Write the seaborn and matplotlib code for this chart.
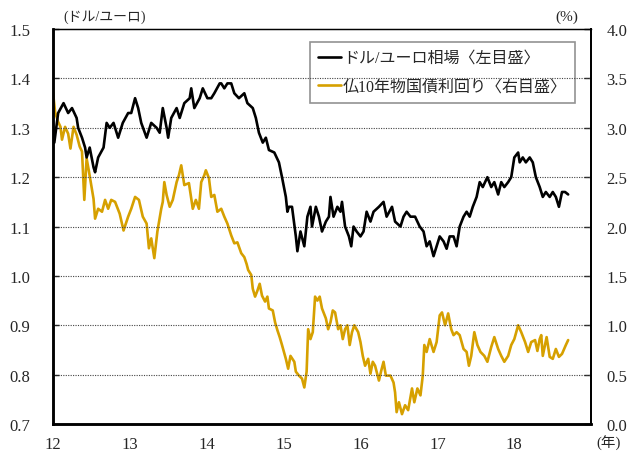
import matplotlib
matplotlib.use('Agg')
import matplotlib.pyplot as plt
import seaborn as sns
import numpy as np
import pandas as pd

# dollar / euro rate (left axis)
usd_t = [2012.00, 2012.02, 2012.07, 2012.14, 2012.20, 2012.25, 2012.31, 2012.33, 2012.38, 2012.42,
         2012.44, 2012.48, 2012.53, 2012.55, 2012.59, 2012.66, 2012.70, 2012.74, 2012.79, 2012.85,
         2012.91, 2012.98, 2013.02, 2013.07, 2013.11, 2013.15, 2013.22, 2013.28, 2013.35, 2013.39,
         2013.43, 2013.48, 2013.50, 2013.54, 2013.61, 2013.65, 2013.71, 2013.78, 2013.80, 2013.84,
         2013.91, 2013.95, 2014.01, 2014.06, 2014.10, 2014.17, 2014.19, 2014.23, 2014.27, 2014.32,
         2014.36, 2014.42, 2014.49, 2014.53, 2014.60, 2014.64, 2014.68, 2014.73, 2014.77, 2014.81,
         2014.88, 2014.94, 2014.98, 2015.03, 2015.05, 2015.07, 2015.11, 2015.16, 2015.18, 2015.22,
         2015.27, 2015.31, 2015.35, 2015.37, 2015.42, 2015.46, 2015.50, 2015.55, 2015.59, 2015.61,
         2015.65, 2015.70, 2015.74, 2015.76, 2015.80, 2015.85, 2015.88, 2015.91, 2015.95, 2016.00,
         2016.04, 2016.08, 2016.13, 2016.17, 2016.24, 2016.30, 2016.34, 2016.41, 2016.45, 2016.52,
         2016.56, 2016.60, 2016.65, 2016.71, 2016.77, 2016.82, 2016.86, 2016.90, 2016.95, 2016.99,
         2017.03, 2017.08, 2017.12, 2017.16, 2017.21, 2017.25, 2017.29, 2017.34, 2017.38, 2017.42,
         2017.46, 2017.51, 2017.55, 2017.59, 2017.65, 2017.70, 2017.74, 2017.79, 2017.83, 2017.87,
         2017.92, 2017.96, 2018.00, 2018.05, 2018.07, 2018.11, 2018.15, 2018.20, 2018.24, 2018.28,
         2018.33, 2018.37, 2018.41, 2018.46, 2018.50, 2018.54, 2018.58, 2018.62, 2018.66, 2018.70]
usd_v = [1.31, 1.27, 1.33, 1.35, 1.33, 1.34, 1.32, 1.30, 1.28, 1.26,
         1.24, 1.26, 1.22, 1.21, 1.24, 1.26, 1.31, 1.30, 1.31, 1.28,
         1.31, 1.33, 1.33, 1.36, 1.34, 1.31, 1.28, 1.31, 1.30, 1.29,
         1.34, 1.30, 1.28, 1.32, 1.34, 1.32, 1.35, 1.36, 1.38, 1.34,
         1.36, 1.38, 1.36, 1.36, 1.37, 1.39, 1.39, 1.38, 1.39, 1.39,
         1.37, 1.36, 1.37, 1.35, 1.34, 1.32, 1.29, 1.27, 1.28, 1.255,
         1.25, 1.23, 1.20, 1.16, 1.13, 1.14, 1.14, 1.08, 1.05, 1.09,
         1.06, 1.12, 1.14, 1.10, 1.14, 1.12, 1.09, 1.11, 1.12, 1.16,
         1.12, 1.14, 1.13, 1.15, 1.10, 1.08, 1.06, 1.10, 1.09, 1.08,
         1.09, 1.13, 1.11, 1.13, 1.14, 1.15, 1.12, 1.14, 1.11, 1.10,
         1.12, 1.13, 1.12, 1.12, 1.10, 1.09, 1.06, 1.07, 1.04, 1.06,
         1.08, 1.07, 1.055, 1.08, 1.08, 1.06, 1.10, 1.12, 1.13, 1.12,
         1.14, 1.16, 1.19, 1.18, 1.20, 1.18, 1.19, 1.165, 1.19, 1.18,
         1.19, 1.20, 1.24, 1.25, 1.23, 1.24, 1.23, 1.24, 1.23, 1.20,
         1.18, 1.16, 1.17, 1.16, 1.17, 1.16, 1.14, 1.17, 1.17, 1.165]

# French 10y government bond yield (right axis, %)
fr_t = [2012.00, 2012.03, 2012.07, 2012.10, 2012.12, 2012.16, 2012.20, 2012.23, 2012.27, 2012.31,
        2012.35, 2012.38, 2012.41, 2012.44, 2012.47, 2012.50, 2012.53, 2012.55, 2012.59, 2012.64,
        2012.68, 2012.72, 2012.76, 2012.81, 2012.87, 2012.92, 2012.98, 2013.02, 2013.07, 2013.12,
        2013.17, 2013.22, 2013.25, 2013.28, 2013.32, 2013.36, 2013.41, 2013.43, 2013.45, 2013.48,
        2013.52, 2013.56, 2013.61, 2013.64, 2013.67, 2013.71, 2013.77, 2013.82, 2013.86, 2013.90,
        2013.93, 2013.97, 2013.99, 2014.03, 2014.06, 2014.10, 2014.14, 2014.19, 2014.23, 2014.27,
        2014.32, 2014.36, 2014.40, 2014.45, 2014.49, 2014.52, 2014.54, 2014.58, 2014.60, 2014.63,
        2014.66, 2014.69, 2014.72, 2014.76, 2014.79, 2014.81, 2014.86, 2014.89, 2014.92, 2014.95,
        2014.98, 2015.03, 2015.06, 2015.09, 2015.14, 2015.16, 2015.20, 2015.24, 2015.27, 2015.30,
        2015.32, 2015.35, 2015.38, 2015.41, 2015.44, 2015.47, 2015.50, 2015.55, 2015.58, 2015.61,
        2015.64, 2015.67, 2015.71, 2015.74, 2015.77, 2015.80, 2015.83, 2015.86, 2015.89, 2015.92,
        2015.97, 2016.00, 2016.03, 2016.06, 2016.10, 2016.13, 2016.16, 2016.19, 2016.24, 2016.27,
        2016.30, 2016.33, 2016.39, 2016.43, 2016.45, 2016.47, 2016.50, 2016.54, 2016.58, 2016.62,
        2016.67, 2016.70, 2016.74, 2016.78, 2016.81, 2016.83, 2016.86, 2016.90, 2016.95, 2016.99,
        2017.03, 2017.06, 2017.10, 2017.14, 2017.18, 2017.21, 2017.25, 2017.29, 2017.34, 2017.38,
        2017.41, 2017.44, 2017.48, 2017.52, 2017.56, 2017.61, 2017.65, 2017.70, 2017.74, 2017.79,
        2017.83, 2017.87, 2017.92, 2017.96, 2018.00, 2018.05, 2018.09, 2018.14, 2018.18, 2018.22,
        2018.27, 2018.30, 2018.33, 2018.35, 2018.37, 2018.42, 2018.46, 2018.50, 2018.54, 2018.58,
        2018.62, 2018.67, 2018.70]
fr_v = [3.38, 3.16, 3.06, 3.01, 2.88, 3.01, 2.94, 2.79, 3.01, 2.93,
        2.81, 2.76, 2.27, 2.69, 2.56, 2.42, 2.28, 2.08, 2.18, 2.15,
        2.27, 2.18, 2.27, 2.25, 2.13, 1.96, 2.10, 2.18, 2.30, 2.27,
        2.10, 2.03, 1.78, 1.88, 1.68, 1.95, 2.18, 2.25, 2.45, 2.32,
        2.20, 2.27, 2.45, 2.52, 2.62, 2.42, 2.44, 2.18, 2.27, 2.18,
        2.45, 2.52, 2.57, 2.49, 2.30, 2.32, 2.15, 2.18, 2.10, 2.03,
        1.91, 1.83, 1.84, 1.73, 1.69, 1.62, 1.56, 1.51, 1.37, 1.29,
        1.35, 1.42, 1.30, 1.24, 1.29, 1.17, 1.15, 1.03, 0.95, 0.88,
        0.80, 0.66, 0.56, 0.69, 0.63, 0.53, 0.49, 0.46, 0.37, 0.53,
        0.96, 0.86, 0.93, 1.29, 1.25, 1.29, 1.17, 1.07, 0.96, 1.03,
        1.15, 1.13, 0.96, 1.00, 0.86, 0.96, 1.00, 0.80, 0.93, 1.00,
        0.93, 0.83, 0.69, 0.59, 0.66, 0.51, 0.63, 0.59, 0.44, 0.54,
        0.63, 0.49, 0.49, 0.42, 0.32, 0.12, 0.22, 0.10, 0.19, 0.14,
        0.36, 0.22, 0.36, 0.29, 0.49, 0.80, 0.73, 0.86, 0.73, 0.83,
        1.10, 1.13, 1.00, 1.12, 0.96, 0.90, 0.93, 0.90, 0.76, 0.73,
        0.59, 0.69, 0.93, 0.80, 0.73, 0.69, 0.63, 0.78, 0.88, 0.76,
        0.69, 0.63, 0.69, 0.80, 0.86, 1.00, 0.93, 0.83, 0.73, 0.83,
        0.85, 0.74, 0.86, 0.90, 0.69, 0.88, 0.68, 0.66, 0.76, 0.68,
        0.71, 0.80, 0.85]

year_ticks = [2012, 2013, 2014, 2015, 2016, 2017, 2018]
year_labels = ['12', '13', '14', '15', '16', '17', '18']
left_ticks = [0.7, 0.8, 0.9, 1.0, 1.1, 1.2, 1.3, 1.4, 1.5]
right_ticks = [0.0, 0.5, 1.0, 1.5, 2.0, 2.5, 3.0, 3.5, 4.0]

usd_label = 'ドル/ユーロ相場〈左目盛〉'
fr_label = '仏10年物国債利回り〈右目盛〉'

sns.set_style('white')
plt.rcParams['font.family'] = ['Liberation Serif', 'Noto Sans CJK JP']

df_usd = pd.DataFrame({'year': usd_t, 'rate': usd_v})
df_fr = pd.DataFrame({'year': fr_t, 'yield': fr_v})

fig = plt.figure(figsize=(6.32, 4.56), dpi=100)
ax = fig.add_axes([0.0835, 0.068, 0.852, 0.866])
ax2 = ax.twinx()

gold = '#d6a000'
sns.lineplot(data=df_fr, x='year', y='yield', ax=ax2, color=gold, linewidth=1.9, label=fr_label, legend=False)
sns.lineplot(data=df_usd, x='year', y='rate', ax=ax, color='black', linewidth=1.9, label=usd_label, legend=False)

# black series on top of the gold one
ax.set_zorder(ax2.get_zorder() + 1)
ax.patch.set_visible(False)

ax.set_xlim(2012, 2019)
ax.set_ylim(0.7, 1.5)
ax2.set_ylim(0.0, 4.0)

ax.set_xticks(year_ticks)
ax.set_xticklabels(year_labels)
ax.set_yticks(left_ticks)
ax.set_yticklabels([f'{v:.1f}' for v in left_ticks])
ax2.set_yticks(right_ticks)
ax2.set_yticklabels([f'{v:.1f}' for v in right_ticks])

for v in left_ticks[1:-1]:
    ax.axhline(v, color='#444444', linestyle=(0, (1, 1.2)), linewidth=0.8, zorder=0)

ax.set_xlabel('')
ax.set_ylabel('')
ax2.set_ylabel('')

ax.tick_params(axis='x', direction='in', length=4, width=1, pad=9, labelsize=12, top=False)
ax.tick_params(axis='y', direction='in', length=4, width=1, pad=16, labelsize=12, right=False)
ax2.tick_params(axis='y', direction='in', length=5, width=1, pad=11, labelsize=12)

for a in (ax, ax2):
    a.spines['left'].set_linewidth(1.8)
    a.spines['bottom'].set_linewidth(1.8)
    a.spines['right'].set_linewidth(1.3)
    a.spines['top'].set_linewidth(0.9)
    for s in a.spines.values():
        s.set_color('black')

ax.text(0.02, 1.015, '(ドル/ユーロ)', transform=ax.transAxes, fontsize=10, ha='left', va='bottom')
ax.text(0.975, 1.015, '(%)', transform=ax.transAxes, fontsize=11, ha='right', va='bottom')
ax.text(1.01, -0.047, '(年)', transform=ax.transAxes, fontsize=10.5, ha='left', va='center')

h1, l1 = ax.get_legend_handles_labels()
h2, l2 = ax2.get_legend_handles_labels()
leg = ax2.legend(h1 + h2, l1 + l2, loc='upper right', bbox_to_anchor=(0.97, 0.967),
                 borderaxespad=0, fontsize=11.5, frameon=True, fancybox=False,
                 handlelength=1.5, handletextpad=0.1, labelspacing=0.8,
                 borderpad=0.5, edgecolor='#777777')
leg.get_frame().set_linewidth(1.2)
leg.set_zorder(10)

fig.savefig('out.png', dpi=100)
